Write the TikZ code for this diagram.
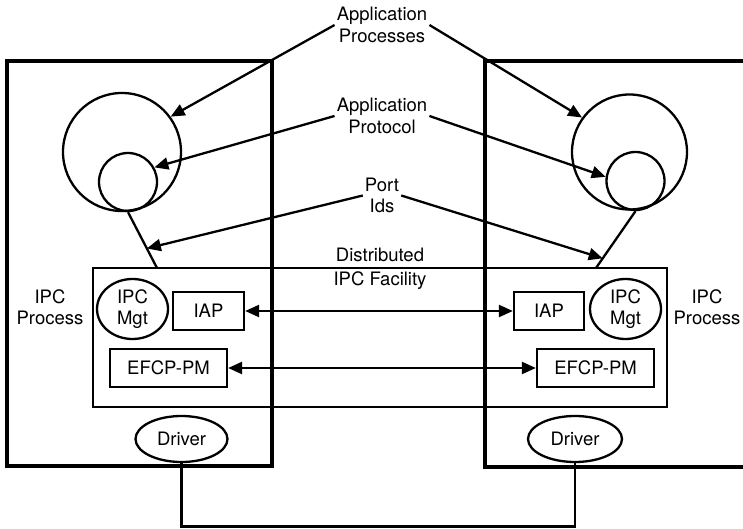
\documentclass[tikz,border=0pt]{standalone}
\usepackage{fontspec}
\setmainfont{TeX Gyre Heros}
\usetikzlibrary{shapes.geometric,arrows.meta,calc}
\begin{document}
\begin{tikzpicture}[x=1pt,y=-1pt,
  every node/.style={font=\fontsize{18.5}{21.5}\selectfont, align=center},
  outerbox/.style={line width=4pt},
  thinline/.style={line width=2.2pt},
  circ/.style={circle, draw, line width=2.3pt, inner sep=0pt},
  ell/.style={ellipse, draw, line width=2.3pt, inner sep=0pt},
  boxn/.style={rectangle, draw, line width=2.3pt, inner sep=0pt},
  lbl/.style={inner sep=2pt},
  pointer/.style={line width=2.3pt, -{Triangle[length=14pt,width=12pt]}},
  both/.style={line width=2.3pt, {Triangle[length=14pt,width=12pt]}-{Triangle[length=14pt,width=12pt]}}
]
\useasboundingbox (0,0) rectangle (743,529);
\fill[white] (0,0) rectangle (743,529);

% outer IPC process boxes
\draw[outerbox] (7,61) rectangle (272,466);
\draw[outerbox] (750,61) -- (485,61) -- (485,467) -- (750,467);

% DIF box
\node[draw, thinline, minimum width=574pt, minimum height=139pt, inner sep=0pt] (dif) at (380,337.5) {};

% application circles
\node[circ, minimum size=118pt] (bigL) at (122,152) {};
\node[circ, minimum size=58pt] (smallL) at (128,182) {};
\node[circ, minimum size=115pt] (bigR) at (629.5,152) {};
\node[circ, minimum size=58pt] (smallR) at (635.5,181) {};

\coordinate (portL) at (157,268);
\coordinate (portR) at (596,268);
\draw[line width=2.3pt] (smallL.south) -- (portL);
\draw[line width=2.3pt] (smallR.south) -- (portR);

% labels
\node[lbl] (appproc) at (382,25) {Application\\Processes};
\node[lbl] (appprot) at (382,116) {Application\\Protocol};
\node[lbl] (portids) at (382,195.5) {Port\\Ids};
\node[lbl] (diflbl) at (380,269) {Distributed\\[3pt]IPC Facility};
\node[lbl] (ipcL) at (50,307) {IPC\\Process};
\node[lbl] (ipcR) at (707,307) {IPC\\Process};

% internal components
\node[ell, minimum width=71pt, minimum height=60pt] (mgtL) at (132.5,309) {IPC\\Mgt};
\node[boxn, minimum width=71pt, minimum height=38pt] (iapL) at (208.5,311) {IAP};
\node[boxn, minimum width=117pt, minimum height=38pt] (efcpL) at (168.5,368) {EFCP-PM};
\node[ell, minimum width=92pt, minimum height=46pt] (drvL) at (181.5,439) {Driver};

\node[ell, minimum width=71pt, minimum height=60pt] (mgtR) at (625.5,309) {IPC\\Mgt};
\node[boxn, minimum width=70pt, minimum height=38pt] (iapR) at (549,311) {IAP};
\node[boxn, minimum width=117pt, minimum height=38pt] (efcpR) at (595.5,368) {EFCP-PM};
\node[ell, minimum width=94pt, minimum height=46pt] (drvR) at (575,439) {Driver};

% pointer arrows
\draw[pointer] (appproc.west) -- (bigL.36);
\draw[pointer] (appproc.east) -- (bigR.144);
\draw[pointer] (appprot.west) -- (smallL.29);
\draw[pointer] (appprot.east) -- (smallR.172);
\draw[pointer] (portids.west) -- ($(smallL.south)!0.65!(portL)$);
\draw[pointer] (portids.east) -- ($(smallR.south)!0.83!(portR)$);

% peer arrows
\draw[both] (iapL.east) -- (iapR.west);
\draw[both] (efcpL.east) -- (efcpR.west);

% driver link
\coordinate (wire) at (0,526.5);
\draw[thinline] (drvL.south) -- (drvL.south |- wire) -| (drvR.south);
\end{tikzpicture}
\end{document}
